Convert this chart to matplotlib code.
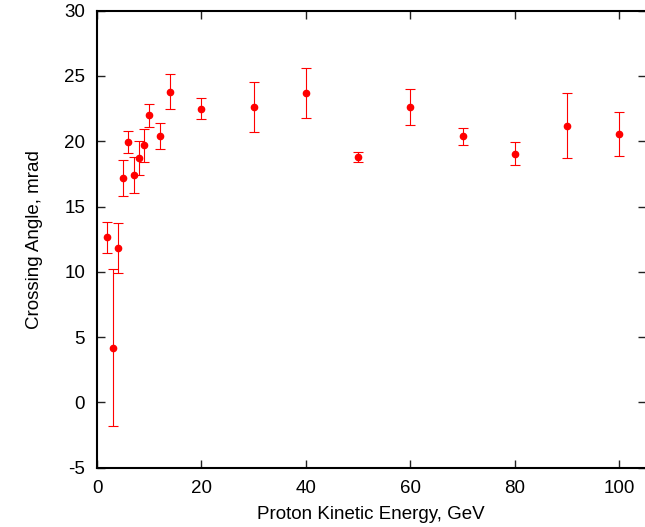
import matplotlib
matplotlib.use("Agg")
import matplotlib.pyplot as plt
import numpy as np

energy = [2, 3, 4, 5, 6, 7, 8, 9, 10, 12, 14, 20, 30, 40, 50, 60, 70, 80, 90, 100]
angle = [12.65, 4.2, 11.83, 17.2, 19.92, 17.4, 18.72, 19.69, 21.99, 20.41, 23.8,
         22.5, 22.6, 23.7, 18.8, 22.6, 20.38, 19.05, 21.2, 20.58]
angle_err = [1.18, 6.0, 1.94, 1.4, 0.83, 1.39, 1.3, 1.28, 0.86, 1.0, 1.33,
             0.79, 1.92, 1.92, 0.37, 1.38, 0.65, 0.88, 2.46, 1.69]
xticks = [0, 20, 40, 60, 80, 100]
yticks = [-5, 0, 5, 10, 15, 20, 25, 30]

plt.rcParams['font.family'] = ['Liberation Sans', 'DejaVu Sans']
plt.rcParams['axes.unicode_minus'] = False
fig = plt.figure(figsize=(6.45, 5.27), dpi=100)
ax = fig.add_axes([97/645, 1-467.7/527, (645.5-97)/645, (467.7-10.7)/527])

ax.errorbar(energy, angle, yerr=angle_err, fmt='o', color='#ff0000',
            ecolor='#ff0000', markersize=4.5, elinewidth=0.8, capsize=3.8,
            capthick=0.8, markeredgecolor='#ff0000')

ax.set_xlim(0, 105)
ax.set_ylim(-5, 30)
ax.set_xticks(xticks)
ax.set_yticks(yticks)
ax.tick_params(direction='in', length=5.8, width=1.0, top=True, right=True,
               labelsize=13.5, color='#222222')
ax.tick_params(axis='x', pad=8.5)
ax.tick_params(axis='y', pad=8.5)
for s in ax.spines.values():
    s.set_linewidth(1.5)
ax.spines['right'].set_color('#dddddd')
ax.spines['right'].set_linewidth(1.0)

ax.set_xlabel('Proton Kinetic Energy, GeV', fontsize=13.5, labelpad=7)
ax.set_ylabel('Crossing Angle, mrad', fontsize=13.5, labelpad=15)

fig.savefig('out.png', dpi=100)
